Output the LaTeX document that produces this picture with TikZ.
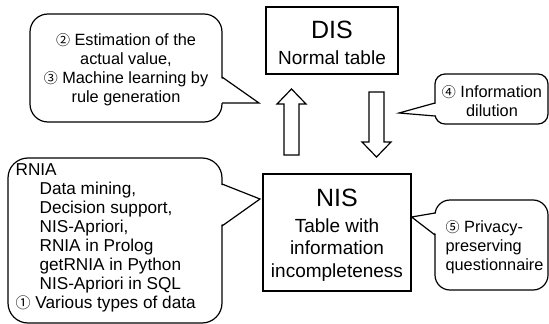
\documentclass[tikz,border=0pt]{standalone}
\usepackage{fontspec}
\setmainfont{Liberation Sans}
\newfontfamily\cjk{Noto Sans CJK JP}
\newcommand{\cn}[1]{{\cjk\fontsize{14}{14}\selectfont #1}}
\begin{document}
\begin{tikzpicture}[x=1pt,y=-1pt, line width=1.2pt, line join=miter,
  boxst/.style={draw, rectangle, inner sep=0pt},
  bubble/.style={draw, rectangle, rounded corners=#1, inner sep=0pt},
  ctext/.style={font=\fontsize{16.3}{19}\selectfont, inner sep=0pt},
  rtext/.style={font=\fontsize{17.2}{19}\selectfont, inner sep=0pt},
  btext/.style={font=\fontsize{19}{22.5}\selectfont, inner sep=0pt, align=center},
  ttext/.style={font=\fontsize{25}{25}\selectfont, inner sep=0pt},
  erase/.style={fill=white, draw=none},
  hollow/.style={draw, fill=white}
]
\useasboundingbox (0,0) rectangle (549,324);

% main boxes
\node[boxst, minimum width=132, minimum height=67] (dis) at (332,40.5) {};
\node[ttext] (distitle) at (332,30) {DIS};
\node[btext] (distext) at (332,58) {Normal table};

\node[boxst, minimum width=148, minimum height=117] (nis) at (337,232.5) {};
\node[ttext] (nistitle) at (337,198) {NIS};
\node[btext] (nistext) at (337,250) {Table with\\information\\incompleteness};

% callout 1
\node[bubble=18, minimum width=192, minimum height=108] (c1) at (126,68) {};
\coordinate (c1a) at (222,77);
\coordinate (c1t) at (259,103);
\coordinate (c1b) at (222,103);
\fill[erase] (220,77.5) -- (c1t) -- (220,103) -- cycle;
\draw (c1a) -- (c1t) -- (c1b);
\node[ctext, align=center] (c1text) at (126,70)
  {\cn{②} Estimation of the\\actual value,\\\cn{③} Machine learning by\\rule generation};

% callout 4
\node[bubble=10, minimum width=113, minimum height=50] (c4) at (491.5,99) {};
\coordinate (c4a) at (435,103);
\coordinate (c4t) at (399,113);
\coordinate (c4b) at (435,116);
\fill[erase] (437,103.5) -- (c4t) -- (437,115.5) -- cycle;
\draw (c4a) -- (c4t) -- (c4b);
\node[ctext, align=center] (c4text) at (492,101) {\cn{④} Information\\dilution};

% callout RNIA
\node[bubble=20, minimum width=214, minimum height=165] (c2) at (115,240.5) {};
\coordinate (c2a) at (222,184);
\coordinate (c2t) at (260,199);
\coordinate (c2b) at (222,226);
\fill[erase] (220,184.5) -- (c2t) -- (220,225.5) -- cycle;
\draw (c2a) -- (c2t) -- (c2b);
\node[rtext, align=left, anchor=west] (c2text) at (15,238)
  {RNIA\\
   \hspace*{24pt}Data mining,\\
   \hspace*{24pt}Decision support,\\
   \hspace*{24pt}NIS-Apriori,\\
   \hspace*{24pt}RNIA in Prolog\\
   \hspace*{24pt}getRNIA in Python\\
   \hspace*{24pt}NIS-Apriori in SQL\\
   {\cjk\fontsize{15}{15}\selectfont ①} Various types of data};

% callout 5
\node[bubble=15, minimum width=113, minimum height=90] (c5) at (491.5,245) {};
\coordinate (c5a) at (435,213);
\coordinate (c5t) at (nis.east |- 0,217);
\coordinate (c5b) at (435,235);
\fill[erase] (437,213.5) -- (c5t) -- (437,234.5) -- cycle;
\draw (c5a) -- (c5t) -- (c5b);
\node[ctext, align=left, anchor=west] (c5text) at (445,247)
  {\cn{⑤} Privacy-\\preserving\\questionnaire};

% hollow arrows
\draw[hollow] (284,155) -- (284,104) -- (277,104) -- (291.5,89) -- (306,104) -- (299,104) -- (299,155) -- cycle;
\draw[hollow] (369,92) -- (384,92) -- (384,142) -- (391,142) -- (376.5,157) -- (362,142) -- (369,142) -- cycle;
\end{tikzpicture}
\end{document}
